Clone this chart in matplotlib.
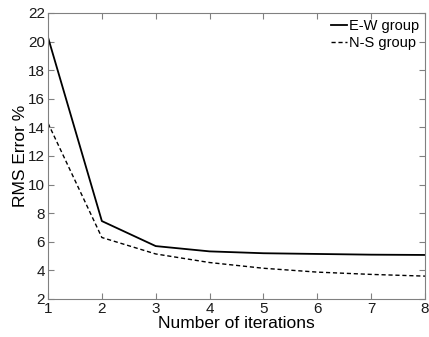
import matplotlib
matplotlib.use('Agg')
import matplotlib.pyplot as plt

plt.rcParams['font.family'] = ['Liberation Sans', 'DejaVu Sans']

iterations = [1, 2, 3, 4, 5, 6, 7, 8]
ew_group = [20.3, 7.45, 5.7, 5.33, 5.2, 5.15, 5.1, 5.08]
ns_group = [14.3, 6.3, 5.15, 4.55, 4.15, 3.88, 3.72, 3.6]

fig = plt.figure(figsize=(4.29, 3.37), dpi=100)
ax = fig.add_axes([48/429, 1 - 299/337, 377/429, 286/337])

ax.plot(iterations, ew_group, 'k-', lw=1.3, label='E-W group')
ax.plot(iterations, ns_group, 'k--', lw=1.0, label='N-S group', dashes=(3, 2))

ax.set_xlim(1, 8)
ax.set_ylim(2, 22)
ax.set_xticks(range(1, 9))
ax.set_yticks(range(2, 23, 2))
ax.tick_params(direction='in', top=True, right=True, labelsize=11, length=4,
               pad=2, color='#808080', labelcolor='#1a1a1a')
for s in ax.spines.values():
    s.set_linewidth(0.8)
    s.set_color('#808080')
ax.set_xlabel('Number of iterations', fontsize=12.5, labelpad=0)
ax.set_ylabel('RMS Error %', fontsize=12.5, labelpad=0)
ax.legend(loc='upper right', frameon=False, fontsize=10.5, handlelength=1.1,
          handletextpad=0.15, borderaxespad=0.0, labelspacing=0.25)

fig.savefig('out.png', dpi=100)
